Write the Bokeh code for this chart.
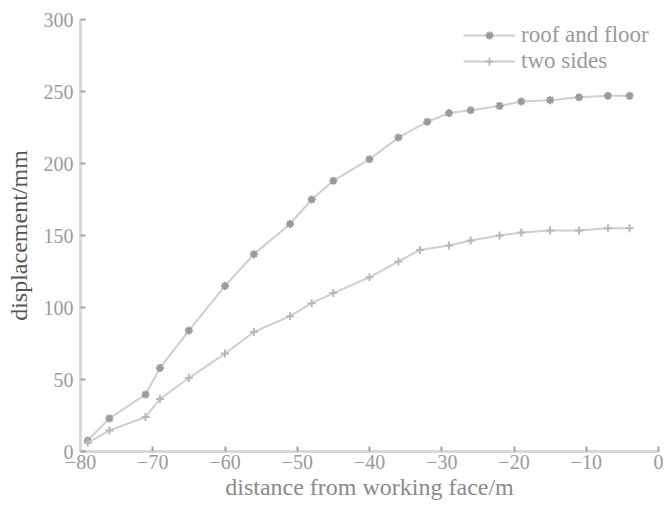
from bokeh.plotting import figure
from bokeh.models import Legend, LegendItem, FixedTicker
from bokeh.embed import file_html
from bokeh.resources import INLINE

# data
roof_x = [-79, -76, -71, -69, -65, -60, -56, -51, -48, -45, -40, -36, -32, -29, -26, -22, -19, -15, -11, -7, -4]
roof_y = [7.6, 23, 39.6, 58, 84, 115, 137, 158, 175, 188, 203, 218, 229, 235, 237, 240, 243, 244, 246, 247, 247]
sides_x = [-79, -76, -71, -69, -65, -60, -56, -51, -48, -45, -40, -36, -33, -29, -26, -22, -19, -15, -11, -7, -4]
sides_y = [6, 14.6, 24, 36.5, 51, 68, 83, 94, 103, 110, 121, 132, 140, 143, 146.5, 150, 152, 153.5, 153.5, 155, 155]
x_ticks = [-80, -70, -60, -50, -40, -30, -20, -10, 0]
y_ticks = [0, 50, 100, 150, 200, 250, 300]
series_names = ["roof and floor", "two sides"]

FONT = "Liberation Serif"

p = figure(width=666, height=507, output_backend="svg", toolbar_location=None,
           x_range=(-80, 0), y_range=(0, 300),
           min_border_left=80, min_border_right=8, min_border_top=19, min_border_bottom=56)
p.outline_line_color = None
p.grid.visible = False
p.background_fill_color = "white"

line_col = "#cfcfcf"
r1l = p.line(roof_x, roof_y, line_color=line_col, line_width=2)
r1m = p.scatter(roof_x, roof_y, marker="asterisk", size=8, line_color="#9a9a9a", line_width=2)
r2l = p.line(sides_x, sides_y, line_color=line_col, line_width=2)
r2m = p.scatter(sides_x, sides_y, marker="cross", size=8, line_color="#b8b8b8", line_width=2)

for ax in (p.xaxis[0], p.yaxis[0]):
    ax.axis_line_color = "#d8d8d8"
    ax.axis_line_width = 3
    ax.major_tick_in = 5
    ax.major_tick_out = 0
    ax.major_tick_line_color = "#a0a0a0"
    ax.major_tick_line_width = 2
    ax.minor_tick_line_color = None
    ax.major_label_text_font = FONT
    ax.major_label_text_font_size = "20px"
    ax.major_label_text_color = "#9a9a9a"
    ax.axis_label_text_font = FONT
    ax.axis_label_text_font_style = "normal"
    ax.axis_label_text_font_size = "24px"

p.xaxis.ticker = FixedTicker(ticks=x_ticks)
p.yaxis.ticker = FixedTicker(ticks=y_ticks)
p.xaxis.axis_label = "distance from working face/m"
p.yaxis.axis_label = "displacement/mm"
p.xaxis.axis_label_text_color = "#8a8a8a"
p.yaxis.axis_label_text_color = "#555555"
p.xaxis.major_label_standoff = 3
p.xaxis.axis_label_standoff = 2
p.yaxis.major_label_standoff = 7
p.yaxis.axis_label_standoff = 9

legend = Legend(items=[
    LegendItem(label=series_names[0], renderers=[r1l, r1m]),
    LegendItem(label=series_names[1], renderers=[r2l, r2m]),
], location=(383, 377))
legend.glyph_width = 52
legend.glyph_height = 20
legend.label_height = 24
legend.spacing = 0
legend.padding = 0
legend.margin = 0
legend.label_standoff = 6
legend.border_line_color = None
legend.background_fill_alpha = 0
legend.label_text_font = FONT
legend.label_text_font_size = "23px"
legend.label_text_color = "#9a9a9a"
p.add_layout(legend, "center")

open("out.html", "w").write(file_html(p, INLINE))
